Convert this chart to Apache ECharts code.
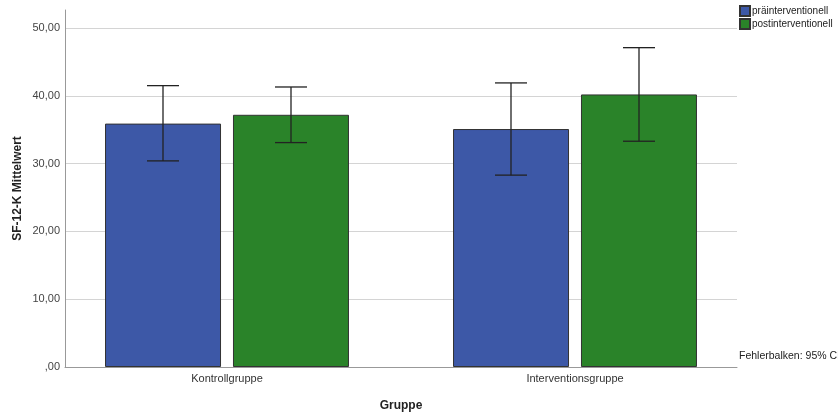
<!DOCTYPE html>
<html><head><meta charset="utf-8">
<script src="https://cdn.jsdelivr.net/npm/echarts@6/dist/echarts.min.js"></script>
<style>html,body{margin:0;padding:0;background:#fff}#c{width:838px;height:412px}</style>
</head><body><div id="c"></div>
<script>
const categories = ['Kontrollgruppe', 'Interventionsgruppe'];
const seriesNames = ['präinterventionell', 'postinterventionell'];
const preMean = [35.9, 35.1];
const preLow = [30.4, 28.3];
const preHigh = [41.5, 41.9];
const postMean = [37.2, 40.2];
const postLow = [33.1, 33.3];
const postHigh = [41.3, 47.1];
const yTicks = [0, 10, 20, 30, 40, 50];

const FONT = '"Liberation Sans", Arial, sans-serif';
const fmt = v => v === 0 ? ',00' : v.toFixed(2).replace('.', ',');

function errSeries(low, high, sign) {
  return {
    type: 'custom', xAxisIndex: 0, yAxisIndex: 0, z: 5,
    data: categories.map((c, i) => [i, low[i], high[i]]),
    renderItem(params, api) {
      const cw = api.size([1, 0])[0];
      const off = sign * cw * 64 / 348;
      const a = api.coord([api.value(0), api.value(1)]);
      const b = api.coord([api.value(0), api.value(2)]);
      const x = a[0] + off, cap = 16;
      const st = { stroke: '#222', lineWidth: 1.3 };
      return { type: 'group', children: [
        { type: 'line', shape: { x1: x, y1: a[1], x2: x, y2: b[1] }, style: st },
        { type: 'line', shape: { x1: x - cap, y1: a[1], x2: x + cap, y2: a[1] }, style: st },
        { type: 'line', shape: { x1: x - cap, y1: b[1], x2: x + cap, y2: b[1] }, style: st }
      ]};
    }
  };
}

const chart = echarts.init(document.getElementById('c'), null, { renderer: 'canvas' });
chart.setOption({
  animation: false,
  textStyle: { fontFamily: FONT },
  grid: [
    { left: 53, right: 89, top: 28, bottom: 45, outerBoundsMode: 'none', containLabel: false },
    { left: 65, right: 101, top: 28, bottom: 45, outerBoundsMode: 'none', containLabel: false },
    { left: 65, right: 101, top: 10, bottom: 45, outerBoundsMode: 'none', containLabel: false }
  ],
  legend: {
    orient: 'vertical', left: 739, top: 5, padding: 0, itemWidth: 10, itemHeight: 10, itemGap: 1,
    icon: 'rect', data: seriesNames,
    textStyle: { fontSize: 10, lineHeight: 10, color: '#222', fontFamily: FONT, padding: [0, 0, 0, -3] }
  },
  xAxis: [
    { type: 'category', gridIndex: 0, data: categories, axisLine: { show: false }, axisTick: { show: false },
      axisLabel: { fontSize: 11, color: '#333', margin: 6 },
      name: 'Gruppe', nameLocation: 'middle', nameGap: 33,
      nameTextStyle: { fontSize: 12, fontWeight: 'bold', color: '#222' } },
    { type: 'category', gridIndex: 1, data: categories, axisLine: { lineStyle: { color: '#999' } },
      axisTick: { show: false }, axisLabel: { show: false } },
    { type: 'category', gridIndex: 2, data: categories, show: false }
  ],
  yAxis: [
    { type: 'value', gridIndex: 0, min: 0, max: 50, interval: 10, show: false },
    { type: 'value', gridIndex: 1, min: 0, max: 50, interval: 10,
      axisLine: { show: false }, axisTick: { show: false },
      splitLine: { lineStyle: { color: '#d4d4d4' } },
      axisLabel: { fontSize: 11, color: '#444', margin: 5,
        formatter: v => yTicks.includes(v) ? fmt(v) : '' } },
    { type: 'value', gridIndex: 2, min: 0, max: 52.6, interval: 10,
      axisLine: { show: true, lineStyle: { color: '#999' } }, axisTick: { show: false },
      splitLine: { show: false }, axisLabel: { show: false },
      name: 'SF-12-K Mittelwert', nameLocation: 'middle', nameGap: 41, nameRotate: 90,
      nameTextStyle: { fontSize: 12, fontWeight: 'bold', color: '#222' } }
  ],
  series: [
    { name: seriesNames[0], type: 'bar', xAxisIndex: 0, yAxisIndex: 0, data: preMean,
      barWidth: 116, barGap: '10.3%',
      itemStyle: { color: '#3d58a7', borderColor: '#333', borderWidth: 1 } },
    { name: seriesNames[1], type: 'bar', xAxisIndex: 0, yAxisIndex: 0, data: postMean,
      barWidth: 116, barGap: '10.3%',
      itemStyle: { color: '#2a8329', borderColor: '#333', borderWidth: 1 } },
    errSeries(preLow, preHigh, -1),
    errSeries(postLow, postHigh, 1)
  ],
  graphic: [
    { type: 'text', left: 739, top: 351,
      style: { text: 'Fehlerbalken: 95% CI', fontSize: 10.5, fill: '#222', fontFamily: FONT } }
  ]
});
</script></body></html>
